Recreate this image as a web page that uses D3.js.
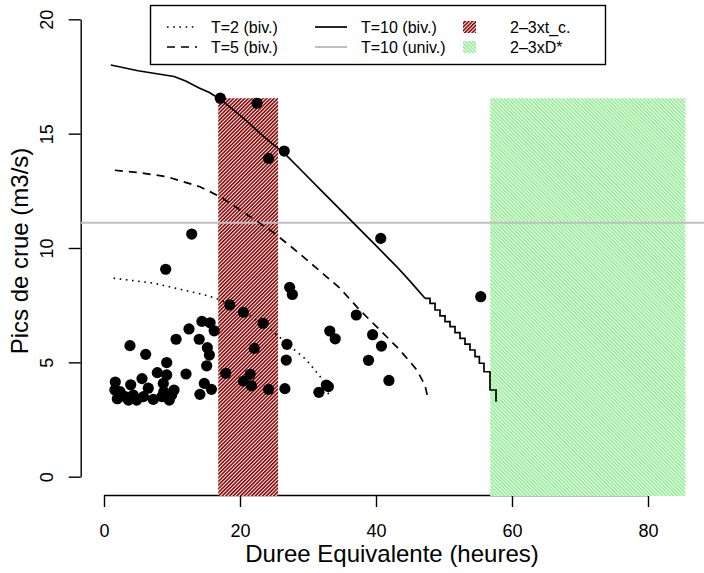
<!DOCTYPE html>
<html><head><meta charset="utf-8">
<script src="https://cdn.jsdelivr.net/npm/d3@7"></script>
<style>body{margin:0;background:#fff}svg{display:block;font-family:"Liberation Sans",Arial,Helvetica,sans-serif}</style>
</head><body><svg id="c" width="704" height="573"></svg>
<script>
// ---- data ----
const xTicks = [0, 20, 40, 60, 80];
const yTicks = [0, 5, 10, 15, 20];
const obsX = [17.1,22.5,26.5,24.2,12.9,40.7,9.07,27.3,27.7,18.5,20.5,37.1,55.4,23.4,33.2,34.0,39.5,40.8,26.9,26.8,38.9,41.9,24.2,26.6,32.7,33.0,31.6,22.1,17.9,21.5,20.5,21.7,
  3.82,6.13,10.6,12.5,14.4,15.6,16.2,14.0,15.2,15.5,15.1,9.22,7.84,9.22,12.06,5.59,1.66,3.93,6.51,8.72,10.3,14.75,15.8,14.1,
  1.6,2.35,1.96,3.1,3.6,4.3,4.8,5.8,7.25,8.5,9.6,9.95,8.8];
const obsY = [16.55,16.33,14.24,13.92,10.61,10.42,9.07,8.28,7.97,7.51,7.19,7.07,7.87,6.71,6.37,6.03,6.21,5.71,5.79,5.1,5.09,4.21,3.82,3.85,4.01,3.94,3.69,5.61,4.52,4.48,4.18,3.97,
  5.73,5.35,6.01,6.46,6.79,6.73,6.38,6.01,5.64,5.32,4.85,4.99,4.55,4.45,4.49,4.29,4.14,4.02,3.87,4.08,3.79,4.08,3.82,3.6,
  3.79,3.72,3.41,3.5,3.35,3.57,3.35,3.5,3.38,3.5,3.35,3.57,3.72];
const t2X = [1.4,7.4,11.7,14.8,17.1,20,22,24.9,28,29.8,31.8,33.2];
const t2Y = [8.68,8.46,8.16,7.95,7.73,7.3,6.93,6.34,5.55,5.1,4.37,3.5];
const t5X = [1.6,5,9.2,14.1,17.1,21.5,24.6,27.8,31.3,34.7,37.6,40.6,43.5,46,47.2,47.7];
const t5Y = [13.4,13.3,13.12,12.68,12.24,11.37,10.75,9.99,9.11,8.24,7.29,6.41,5.54,4.67,4.0,3.35];
const t10X = [1.0,5,10.3,12,14,15.5,17.1,19,21,23,25,26.5,29,32,35,37,40,43,45,47.2];
const t10Y = [18.0,17.75,17.5,17.3,17.0,16.8,16.5,16.05,15.55,15.0,14.5,14.15,13.4,12.5,11.6,11.0,10.1,9.2,8.55,7.8];
const t10StepX = [47.2,47.94,48.68,49.41,50.15,50.88,51.62,52.35,53.09,53.82,54.56,55.2,55.88,56.76,57.65];
const t10StepY = [7.8,7.58,7.29,7.03,6.78,6.56,6.3,6.05,5.8,5.54,5.25,4.96,4.59,3.79,3.28];
const t10Univ = 11.1;
const zoneNames = ["2\u20133xt_c.", "2\u20133xD*"];
const zoneFrom = [16.8, 56.8];
const zoneTo = [25.6, 85.5];
const zoneTop = [16.55, 16.55];
const legendLabels = ["T=2 (biv.)", "T=5 (biv.)", "T=10 (biv.)", "T=10 (univ.)"];

// ---- layout ----
const svg = d3.select("#c");
const x = d3.scaleLinear().domain([0, 80]).range([104, 648]);
const y = d3.scaleLinear().domain([0, 20]).range([476.7, 19.3]);
const plotL = 80.7, plotB = 495, plotR = 704;

const defs = svg.append("defs");
function hatch(id, color, angle) {
  const p = defs.append("pattern").attr("id", id).attr("patternUnits", "userSpaceOnUse")
    .attr("width", 2.6).attr("height", 10).attr("patternTransform", `rotate(${angle})`);
  p.append("rect").attr("width", 2.6).attr("height", 10).attr("fill", "#fff");
  p.append("rect").attr("width", 1.6).attr("height", 10).attr("fill", color);
}
hatch("hRed", "#8b0000", 45);
hatch("hGreen", "#90ee90", -45);
const zoneFill = ["url(#hRed)", "url(#hGreen)"];

// axes
const xAxis = svg.append("g").attr("transform", `translate(0,${plotB})`)
  .call(d3.axisBottom(x).tickValues(xTicks).tickSize(12).tickSizeOuter(0));
const yAxis = svg.append("g").attr("transform", `translate(${plotL},0)`)
  .call(d3.axisLeft(y).tickValues(yTicks).tickSize(12).tickSizeOuter(0));
[xAxis, yAxis].forEach(a => {
  a.select(".domain").attr("stroke", "#000").attr("stroke-width", 1.4);
  a.selectAll(".tick line").attr("stroke", "#000").attr("stroke-width", 1.4);
  a.selectAll("text").attr("fill", "#000").attr("font-size", 18).attr("font-family", "Liberation Sans, Arial, sans-serif");
});
xAxis.selectAll(".tick text").attr("y", 41.5).attr("dy", null);
yAxis.selectAll(".tick text").attr("x", null).attr("dy", null).attr("text-anchor", "middle")
  .attr("transform", "translate(-27.7,0) rotate(-90)");

// zones
svg.append("g").selectAll("rect").data(zoneFrom).join("rect")
  .attr("x", (d) => x(d)).attr("width", (d, i) => x(zoneTo[i]) - x(d))
  .attr("y", (d, i) => y(zoneTop[i])).attr("height", (d, i) => plotB + 1 - y(zoneTop[i]))
  .attr("fill", (d, i) => zoneFill[i]);

// univariate line
svg.append("line").attr("x1", plotL).attr("x2", plotR).attr("y1", y(t10Univ)).attr("y2", y(t10Univ))
  .attr("stroke", "#bebebe").attr("stroke-width", 2);

const line = d3.line().x(d => x(d[0])).y(d => y(d[1]));
const zip = (a, b) => a.map((v, i) => [v, b[i]]);
svg.append("path").attr("d", line(zip(t2X, t2Y))).attr("fill", "none").attr("stroke", "#000")
  .attr("stroke-width", 1.6).attr("stroke-dasharray", "1.6,4.6");
svg.append("path").attr("d", line(zip(t5X, t5Y))).attr("fill", "none").attr("stroke", "#000")
  .attr("stroke-width", 1.7).attr("stroke-dasharray", "8,6");
svg.append("path").attr("d", line(zip(t10X, t10Y))).attr("fill", "none").attr("stroke", "#000")
  .attr("stroke-width", 1.7);
svg.append("path").attr("d", d3.line().x(d => x(d[0])).y(d => y(d[1])).curve(d3.curveStepAfter)(zip(t10StepX, t10StepY)))
  .attr("fill", "none").attr("stroke", "#000").attr("stroke-width", 1.7);

// points
svg.append("g").selectAll("circle").data(obsX).join("circle")
  .attr("cx", d => x(d)).attr("cy", (d, i) => y(obsY[i])).attr("r", 5.6).attr("fill", "#000");

// axis titles
svg.append("text").attr("x", 392).attr("y", 562).attr("text-anchor", "middle").attr("font-size", 24)
  .text("Duree Equivalente (heures)");
svg.append("text").attr("transform", "translate(28,251) rotate(-90)").attr("text-anchor", "middle")
  .attr("font-size", 24).text("Pics de crue (m3/s)");

// legend
const lg = svg.append("g");
lg.append("rect").attr("x", 150.5).attr("y", 5.5).attr("width", 455).attr("height", 59)
  .attr("fill", "#fff").attr("stroke", "#000").attr("stroke-width", 1.4);
const rowY = [27, 47];
const lineKeys = [
  {dash: "1.6,4.6", color: "#000", col: 0, row: 0},
  {dash: "8,6", color: "#000", col: 0, row: 1},
  {dash: null, color: "#000", col: 1, row: 0},
  {dash: null, color: "#bebebe", col: 1, row: 1}
];
const colLine = [[167, 197], [315, 347]];
const colText = [211, 361];
lineKeys.forEach((k, i) => {
  lg.append("line").attr("x1", colLine[k.col][0]).attr("x2", colLine[k.col][1])
    .attr("y1", rowY[k.row]).attr("y2", rowY[k.row]).attr("stroke", k.color)
    .attr("stroke-width", k.color === "#000" ? 1.7 : 2).attr("stroke-dasharray", k.dash);
  lg.append("text").attr("x", colText[k.col]).attr("y", rowY[k.row]).attr("dy", "0.35em")
    .attr("font-size", 16).text(legendLabels[i]);
});
zoneNames.forEach((n, i) => {
  lg.append("rect").attr("x", 463).attr("y", rowY[i] - 6).attr("width", 13).attr("height", 12)
    .attr("fill", zoneFill[i]);
  lg.append("text").attr("x", 510).attr("y", rowY[i]).attr("dy", "0.35em").attr("font-size", 16).text(n);
});
</script></body></html>
